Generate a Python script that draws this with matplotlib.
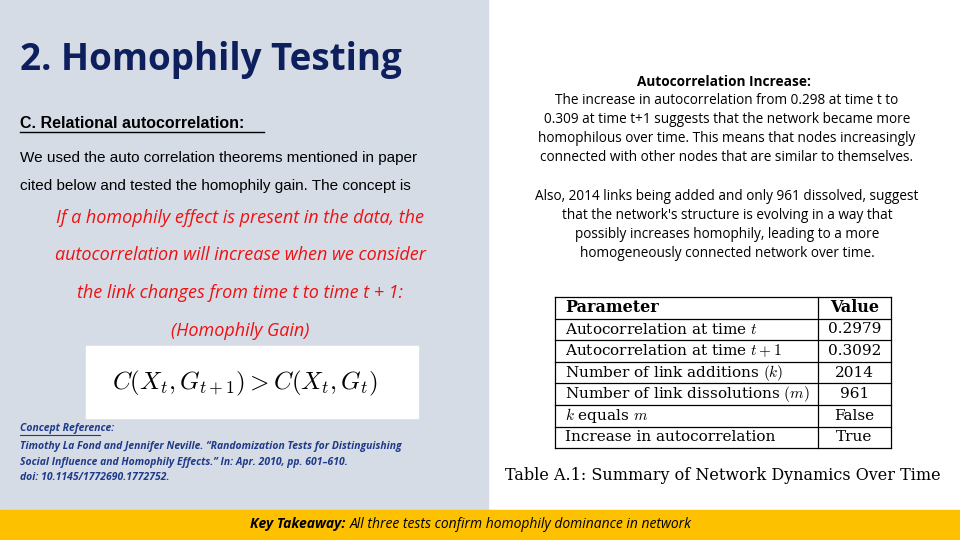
import matplotlib
matplotlib.use("Agg")
import matplotlib.pyplot as plt
from matplotlib.patches import Rectangle

params = [r"Autocorrelation at time $t$", r"Autocorrelation at time $t+1$",
          r"Number of link additions $(k)$", r"Number of link dissolutions $(m)$",
          r"$k$ equals $m$", "Increase in autocorrelation"]
values = ["0.2979", "0.3092", "2014", "961", "False", "True"]

plt.rcParams['mathtext.fontset'] = 'cm'
fig = plt.figure(figsize=(9.6, 5.4), dpi=100)
ax = fig.add_axes([0, 0, 1, 1])
ax.set_xlim(0, 960); ax.set_ylim(540, 0); ax.axis('off')

ax.add_patch(Rectangle((0, 0), 488, 510, color='#d6dce6'))
ax.add_patch(Rectangle((0, 510), 960, 30, color='#fdc100'))

ax.text(20, 60, "2. Homophily Testing", fontsize=26.5, fontweight='bold', color='#0d1f5c',
        family='Open Sans', va='center')
ax.text(20, 124, "C. Relational autocorrelation:", fontsize=11.5, fontweight='bold',
        family='Liberation Sans', va='center')
ax.plot([20, 264], [132, 132], color='black', lw=1)
ax.text(20, 158, "We used the auto correlation theorems mentioned in paper", fontsize=11,
        family='Liberation Sans', va='center')
ax.text(20, 186, "cited below and tested the homophily gain. The concept is", fontsize=11,
        family='Liberation Sans', va='center')
red_lines = ["If a homophily effect is present in the data, the",
             "autocorrelation will increase when we consider",
             "the link changes from time t to time t + 1:",
             "(Homophily Gain)"]
for i, s in enumerate(red_lines):
    ax.text(240, 218 + i*37.5, s, fontsize=13, style='italic', color='#ee1111',
            family='Open Sans', ha='center', va='center')
ax.add_patch(Rectangle((86, 346), 332, 72, color='white'))
ax.text(245, 383, r"$C(X_t, G_{t+1}) > C(X_t, G_t)$", fontsize=18, ha='center', va='center')

ref = ["Timothy La Fond and Jennifer Neville. \u201cRandomization Tests for Distinguishing",
       "Social Influence and Homophily Effects.\u201d In: Apr. 2010, pp. 601\u2013610.",
       "doi: 10.1145/1772690.1772752."]
ax.text(20, 429, "Concept Reference:", fontsize=7.5, style='italic', fontweight='bold',
        color='#1f3a8a', family='Open Sans', va='center')
ax.plot([20, 100], [435, 435], color='#1f3a8a', lw=0.8)
for i, s in enumerate(ref):
    ax.text(20, 446 + i*16, s, fontsize=7.5, style='italic', fontweight='bold',
            color='#1f3a8a', family='Open Sans', va='center')

ax.text(724, 82, "Autocorrelation Increase:", fontsize=9.8, fontweight='bold',
        family='Open Sans', ha='center', va='center')
right = ["The increase in autocorrelation from 0.298 at time t to",
         "0.309 at time t+1 suggests that the network became more",
         "homophilous over time. This means that nodes increasingly",
         "connected with other nodes that are similar to themselves.",
         "",
         "Also, 2014 links being added and only 961 dissolved, suggest",
         "that the network's structure is evolving in a way that",
         "possibly increases homophily, leading to a more",
         "homogeneously connected network over time."]
for i, s in enumerate(right):
    ax.text(727, 100 + i*19.2, s, fontsize=9.8, family='Open Sans', ha='center', va='center')

x0, x1, x2 = 555, 818, 891
top, rh = 297, 21.6
ax.text(565, top + rh/2, "Parameter", fontsize=11.5, fontweight='bold', family='DejaVu Serif', va='center')
ax.text((x1+x2)/2, top + rh/2, "Value", fontsize=11.5, fontweight='bold', family='DejaVu Serif',
        ha='center', va='center')
for i, (p, v) in enumerate(zip(params, values)):
    y = top + rh*(i+1) + rh/2
    ax.text(565, y, p, fontsize=11, family='DejaVu Serif', va='center')
    ax.text((x1+x2)/2, y, v, fontsize=11, family='DejaVu Serif', ha='center', va='center')
n = len(params) + 1
for i in range(n+1):
    ax.plot([x0, x2], [top + i*rh]*2, color='black', lw=0.9)
for x in (x0, x1, x2):
    ax.plot([x, x], [top, top + n*rh], color='black', lw=0.9)
ax.text(723, 476, "Table A.1: Summary of Network Dynamics Over Time", fontsize=11.5,
        family='DejaVu Serif', ha='center', va='center')

ax.text(250, 524, "Key Takeaway:", fontsize=10, style='italic', fontweight='bold',
        family='Open Sans', va='center')
ax.text(350, 524, "All three tests confirm homophily dominance in network", fontsize=10,
        style='italic', family='Open Sans', va='center')
fig.savefig("out.png", dpi=100)
